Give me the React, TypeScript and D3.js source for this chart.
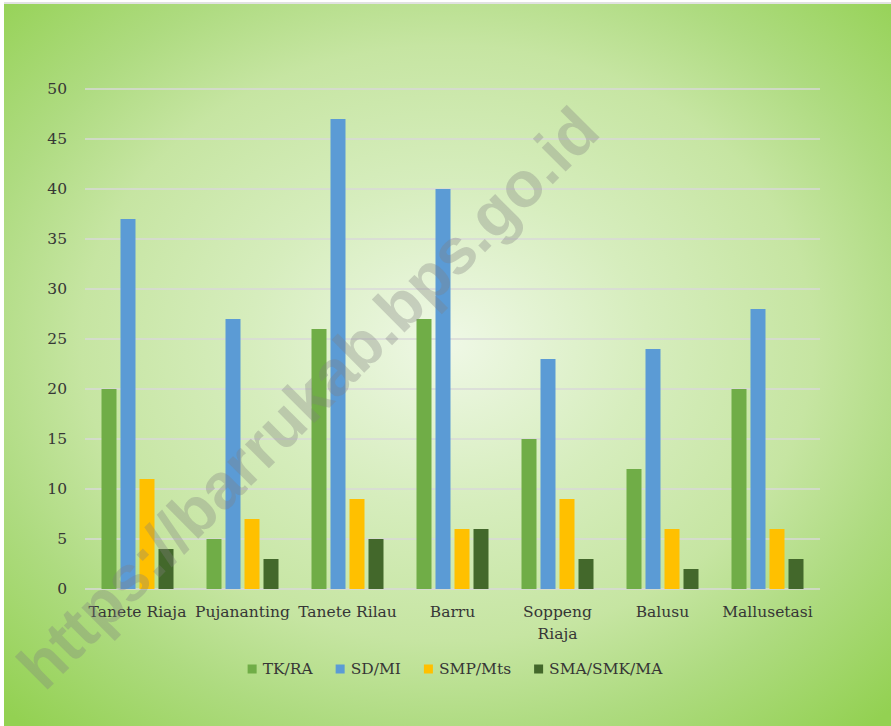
import React, { useEffect, useRef } from "react";
import * as d3 from "d3";

const categories = ["Tanete Riaja", "Pujananting", "Tanete Rilau", "Barru", "Soppeng Riaja", "Balusu", "Mallusetasi"];
const seriesNames = ["TK/RA", "SD/MI", "SMP/Mts", "SMA/SMK/MA"];
const tkRa = [20, 5, 26, 27, 15, 12, 20];
const sdMi = [37, 27, 47, 40, 23, 24, 28];
const smpMts = [11, 7, 9, 6, 9, 6, 6];
const smaSmkMa = [4, 3, 5, 6, 3, 2, 3];
const seriesColors = ["#70ad47", "#5b9bd5", "#ffc000", "#43682b"];
const yTicks = [0, 5, 10, 15, 20, 25, 30, 35, 40, 45, 50];
const watermark = "https://barrukab.bps.go.id";

const W = 891;
const H = 726;
const FONT = "'DejaVu Serif', serif";
const TEXT = "#363636";

export default function App() {
  const ref = useRef<SVGSVGElement | null>(null);

  useEffect(() => {
    const svg = d3.select(ref.current);
    svg.selectAll("*").remove();
    const series = [tkRa, sdMi, smpMts, smaSmkMa];

    const defs = svg.append("defs");
    const grad = defs
      .append("radialGradient")
      .attr("id", "bg")
      .attr("cx", 0.5)
      .attr("cy", 0.47)
      .attr("r", 0.75);
    [
      [0, "#eff8e6"],
      [0.3, "#d6edbd"],
      [0.55, "#c6e5a2"],
      [0.72, "#aedb80"],
      [0.95, "#93d152"],
    ].forEach(([o, c]) => grad.append("stop").attr("offset", o as number).attr("stop-color", c as string));

    svg.append("rect").attr("width", W).attr("height", H).attr("fill", "#ffffff");
    svg.append("rect").attr("x", 4).attr("y", 4).attr("width", W - 4).attr("height", H - 4).attr("fill", "url(#bg)");
    svg.append("line").attr("x1", 4).attr("x2", W).attr("y1", 3).attr("y2", 3).attr("stroke", "#d9d9d9").attr("stroke-width", 1.5);

    const x0 = d3.scaleBand<string>().domain(categories).range([85, 820]).padding(0);
    const bw = x0.bandwidth();
    const groupW = 72;
    const x1 = d3
      .scaleBand<string>()
      .domain(seriesNames)
      .range([(bw - groupW) / 2, (bw + groupW) / 2])
      .paddingInner(4 / 19)
      .paddingOuter(0);
    const y = d3.scaleLinear().domain([0, 50]).range([589, 89]);

    svg
      .append("g")
      .selectAll("line")
      .data(yTicks)
      .join("line")
      .attr("x1", 85)
      .attr("x2", 820)
      .attr("y1", (d) => y(d))
      .attr("y2", (d) => y(d))
      .attr("stroke", "#d9d9d9")
      .attr("stroke-width", 1.5);

    svg
      .append("g")
      .selectAll("text")
      .data(yTicks)
      .join("text")
      .attr("x", 67)
      .attr("y", (d) => y(d))
      .attr("text-anchor", "end")
      .attr("dominant-baseline", "central")
      .attr("font-family", FONT)
      .attr("font-size", 15.5)
      .attr("fill", TEXT)
      .text((d) => String(d));

    const g = svg.append("g");
    series.forEach((vals, si) => {
      g.append("g")
        .selectAll("rect")
        .data(vals)
        .join("rect")
        .attr("x", (d, i) => (x0(categories[i]) as number) + (x1(seriesNames[si]) as number))
        .attr("y", (d) => y(d))
        .attr("width", x1.bandwidth())
        .attr("height", (d) => y(0) - y(d))
        .attr("fill", seriesColors[si]);
    });

    const xl = svg.append("g");
    categories.forEach((c) => {
      const cx = (x0(c) as number) + bw / 2;
      const t = xl
        .append("text")
        .attr("x", cx)
        .attr("y", 617)
        .attr("text-anchor", "middle")
        .attr("font-family", FONT)
        .attr("font-size", 15.5)
        .attr("fill", TEXT);
      const words = c === "Soppeng Riaja" ? ["Soppeng", "Riaja"] : [c];
      words.forEach((w, i) => {
        t.append("tspan").attr("x", cx).attr("dy", i === 0 ? 0 : 22).text(w);
      });
    });

    const lg = svg.append("g");
    let cursor = 0;
    const gap = 23;
    seriesNames.forEach((s, i) => {
      const ig = lg.append("g");
      ig.append("rect").attr("x", 0).attr("y", -4.5).attr("width", 9).attr("height", 9).attr("fill", seriesColors[i]);
      const tx = ig
        .append("text")
        .attr("x", 15)
        .attr("y", 0)
        .attr("dominant-baseline", "central")
        .attr("font-family", FONT)
        .attr("font-size", 15.5)
        .attr("fill", TEXT)
        .text(s);
      const tw = (tx.node() as SVGTextElement).getComputedTextLength();
      ig.attr("transform", `translate(${cursor},0)`);
      cursor += 15 + tw + gap;
    });
    const total = cursor - gap;
    lg.attr("transform", `translate(${455 - total / 2},${669})`);

    svg
      .append("text")
      .attr("transform", "translate(308,398) rotate(-45)")
      .attr("text-anchor", "middle")
      .attr("dominant-baseline", "central")
      .attr("font-family", "'Liberation Sans', Arial, sans-serif")
      .attr("font-weight", "bold")
      .attr("font-size", 64)
      .attr("fill", "#7f7f7f")
      .attr("fill-opacity", 0.33)
      .text(watermark);
  }, []);

  return (
    <svg
      ref={ref}
      width={W}
      height={H}
      style={{ position: "absolute", left: 0, top: 0, display: "block" }}
    />
  );
}
